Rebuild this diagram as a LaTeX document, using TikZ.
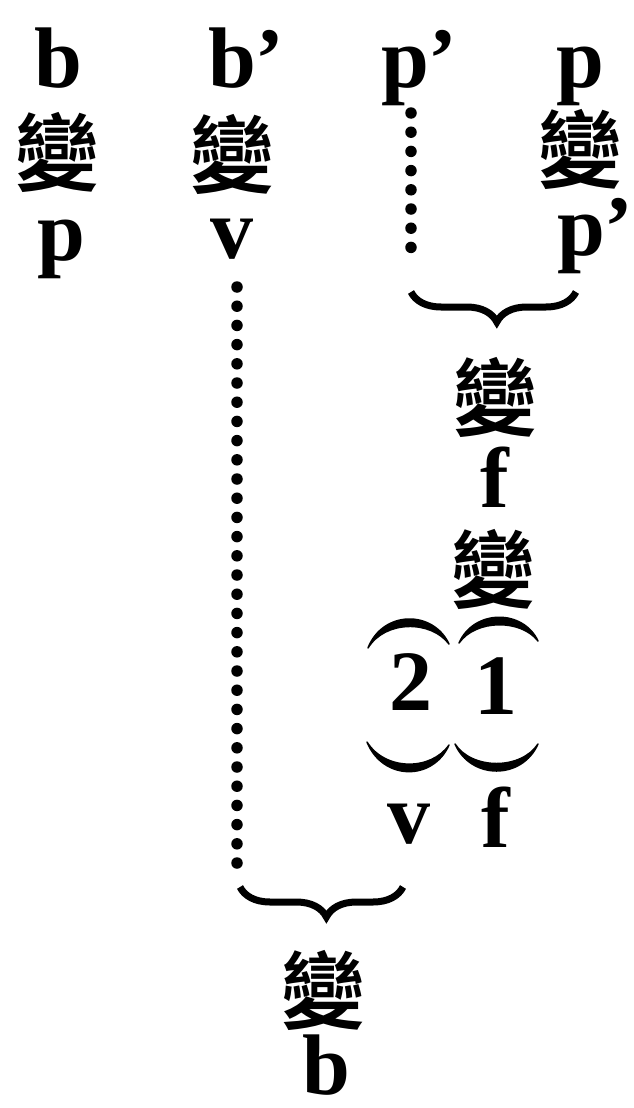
\documentclass[tikz,border=0pt]{standalone}
\usepackage{fontspec}
\setmainfont{Liberation Serif}
\newfontfamily\cjk{Noto Sans CJK TC Bold}
\usetikzlibrary{decorations.pathreplacing}

\tikzset{
  lat/.style={inner sep=0pt, anchor=base, font=\fontsize{86}{90}\selectfont\bfseries},
  han/.style={inner sep=0pt, font=\fontsize{84}{90}\selectfont\cjk},
  dotline/.style={line width=11.5pt, line cap=round, dash pattern=on 0pt off 19.2pt},
  bracedown/.style={decorate, decoration={brace, mirror, amplitude=30pt, aspect=#1}, line width=7pt},
  bracedown/.default=0.5,
  paren/.style={line width=1.5pt, line join=round}
}

\begin{document}
\begin{tikzpicture}[x=1pt,y=-1pt]
\useasboundingbox (0,0) rectangle (634,1108);

% First column
\node[lat] (b1) at (58,87) {b};
\node[han] (bian1) at (57,152) {變};
\node[lat] (p1) at (61,260) {p};

% Second column
\node[lat] (b2) at (232,88) {b\rlap{’}};
\node[han] (bian2) at (232,154) {變};
\node[lat] (v1) at (232,258) {v};

% Third column
\node[lat] (p2) at (405,87) {p\rlap{’}};
\coordinate (d1) at (411,113);
\coordinate (d2) at (411,257);
\draw[dotline] (d1) -- (d2);

% Right column
\node[lat] (p3) at (580,87) {p};
\node[han] (bian3) at (580,149) {變};
\node[lat] (p4) at (581,255) {p\rlap{’}};

% Brace under p' ... p'
\coordinate (br1) at (411,292);
\coordinate (br2) at (576,292);
\draw[bracedown=0.52] (br1) -- (br2);

\node[han] (bian4) at (495,397) {變};
\node[lat] (f1) at (495,507) {f};
\node[han] (bian5) at (493,569) {變};

% (2) and (1)
\filldraw[paren] (368,648) .. controls (383,610) and (433,610) .. (449,644)
  .. controls (431,620) and (385,620) .. (368,648) -- cycle;
\filldraw[paren] (367,742) .. controls (383,781) and (433,781) .. (449,745)
  .. controls (431,771) and (385,771) .. (367,742) -- cycle;
\node[lat] (two) at (411,710) {2};
\filldraw[paren] (459,643) .. controls (474,609) and (523,609) .. (538,641)
  .. controls (521,619) and (476,619) .. (459,643) -- cycle;
\filldraw[paren] (455,744) .. controls (471,780) and (522,780) .. (538,744)
  .. controls (521,770) and (472,770) .. (455,744) -- cycle;
\node[lat] (one) at (496,714) {1};

\node[lat] (v2) at (409,843) {v};
\node[lat] (f2) at (496,847) {f};

% Long dotted line from v
\coordinate (d3) at (237,287);
\coordinate (d4) at (237,863);
\draw[dotline] (d3) -- (d4);

% Brace under the dots
\coordinate (br3) at (240,887);
\coordinate (br4) at (403,887);
\draw[bracedown=0.53] (br3) -- (br4);

\node[han] (bian6) at (323,990) {變};
\node[lat] (b3) at (326,1094) {b};

\end{tikzpicture}
\end{document}
